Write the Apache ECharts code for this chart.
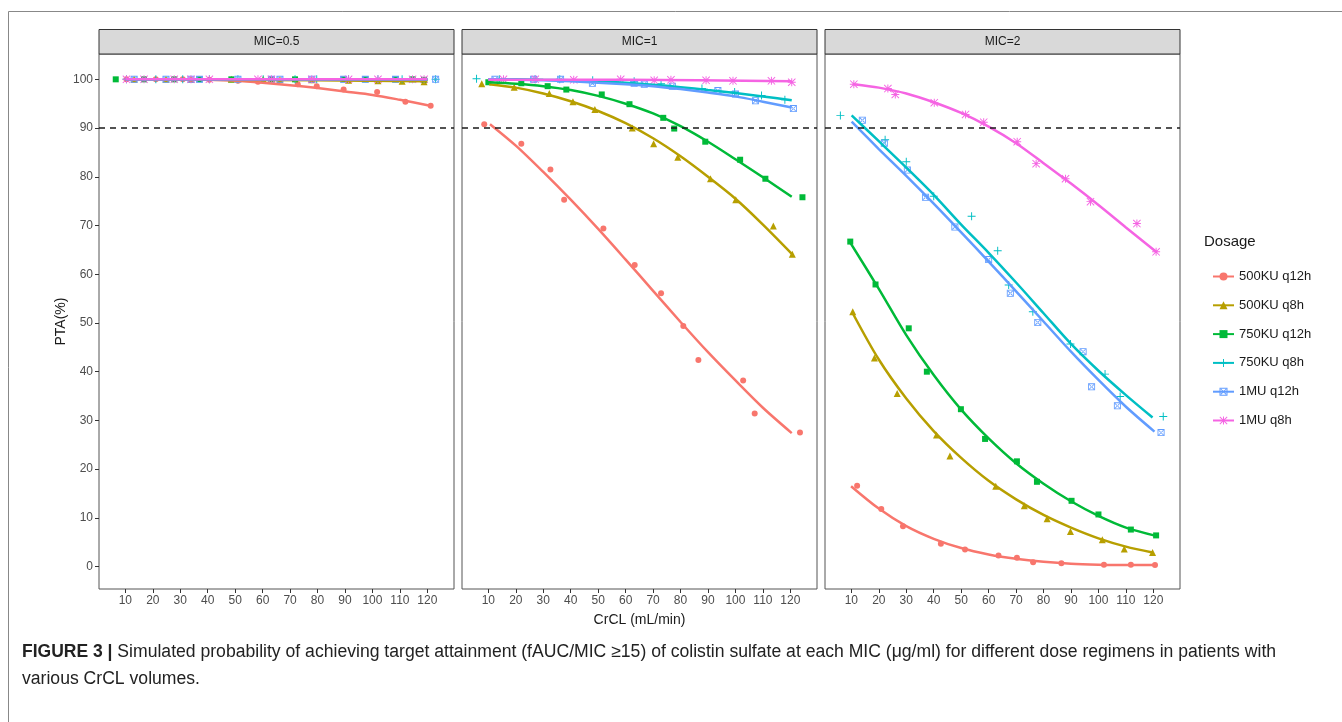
<!DOCTYPE html>
<html>
<head>
<meta charset="utf-8">
<script src="https://cdn.jsdelivr.net/npm/echarts@6/dist/echarts.min.js"></script>
<style>
  html, body { margin: 0; background: #fff; }
  #chart { width: 1342px; height: 722px; }
</style>
</head>
<body>
<div id="chart"></div>
<script>
const dosages = ['500KU q12h', '500KU q8h', '750KU q12h', '750KU q8h', '1MU q12h', '1MU q8h'];
const panels = ['MIC=0.5', 'MIC=1', 'MIC=2'];
const xTicks = [10, 20, 30, 40, 50, 60, 70, 80, 90, 100, 110, 120];
const yTicks = [0, 10, 20, 30, 40, 50, 60, 70, 80, 90, 100];
const targetPTA = 90;

// simulated PTA points, [CrCL, PTA], one list per dosage
const pointsMic05 = [
  [[10.4, 100], [21.1, 100], [30.9, 100], [40.6, 99.9], [51, 99.7], [58.3, 99.5], [72.8, 99.0], [79.7, 98.6], [89.5, 97.9], [101.7, 97.4], [112, 95.4], [121.2, 94.6]],
  [[13.2, 100], [24.8, 100], [33.9, 100], [48.6, 100], [60.2, 100], [66.3, 99.9], [77.9, 99.9], [91.3, 99.8], [102, 99.7], [110.8, 99.6], [118.8, 99.5]],
  [[6.5, 100], [16.8, 100], [27.8, 100], [37, 100], [48.6, 100], [63.2, 100], [71.8, 100], [89.5, 100], [97.4, 100], [108.4, 100], [114.6, 100], [118.8, 99.9]],
  [[10.4, 100], [21.1, 100], [30.9, 100], [40.6, 100], [51, 100], [60.2, 100], [71.8, 100], [79.7, 100], [91.3, 100], [102, 100], [110.8, 100], [123, 100]],
  [[13.2, 100], [24.8, 100], [33.9, 100], [37, 100], [51, 100], [63.2, 100], [66.3, 100], [77.9, 100], [89.5, 100], [97.4, 100], [108.4, 100], [123, 100]],
  [[10.4, 100], [16.8, 100], [27.8, 100], [33.9, 100], [40.6, 100], [58.3, 100], [63.2, 100], [77.9, 100], [91.3, 100], [102, 100], [114.6, 100], [118.8, 100]]
];
const pointsMic1 = [
  [[8.5, 90.8], [22, 86.8], [32.6, 81.5], [37.6, 75.3], [51.9, 69.4], [63.3, 61.9], [72.9, 56.1], [81, 49.4], [86.5, 42.4], [102.8, 38.2], [107, 31.4], [123.5, 27.5]],
  [[7.6, 99.1], [19.4, 98.4], [32.2, 97.1], [40.8, 95.4], [48.8, 93.8], [62.4, 90.0], [70.2, 86.8], [79, 84.0], [90.9, 79.6], [100.1, 75.3], [113.8, 69.9], [120.7, 64.1]],
  [[10, 99.4], [22, 99.2], [31.6, 98.6], [38.4, 97.9], [51.3, 96.9], [61.4, 94.9], [73.7, 92.1], [77.7, 89.9], [89, 87.2], [101.7, 83.5], [110.9, 79.6], [124.4, 75.8]],
  [[5.7, 100.1], [14, 100], [27, 100], [36, 100], [48, 99.8], [63.1, 99.6], [72.9, 99.1], [87.8, 98.1], [99.7, 97.4], [109.5, 96.7], [118, 95.8]],
  [[12.4, 100], [26.5, 100], [36.3, 100], [47.9, 99.2], [63.1, 99.2], [66.8, 99.0], [77, 98.6], [93.6, 97.7], [100, 97], [107.3, 95.6], [121.1, 94.0]],
  [[15.5, 100], [27.1, 100], [41.1, 99.9], [58.2, 100], [70.4, 99.8], [76.5, 99.9], [89.3, 99.8], [99.1, 99.7], [113.1, 99.7], [120.5, 99.4]]
];
const pointsMic2 = [
  [[12.1, 16.6], [20.9, 11.8], [28.8, 8.3], [42.6, 4.7], [51.4, 3.5], [63.6, 2.3], [70.3, 1.8], [76.2, 0.9], [86.5, 0.7], [102, 0.4], [111.8, 0.4], [120.6, 0.3]],
  [[10.5, 52.3], [18.4, 42.8], [26.7, 35.5], [41, 27.0], [45.9, 22.7], [62.6, 16.5], [73, 12.5], [81.3, 9.8], [89.8, 7.2], [101.4, 5.5], [109.4, 3.6], [119.7, 2.9]],
  [[9.6, 66.7], [18.8, 57.9], [30.9, 48.9], [37.5, 40.0], [49.9, 32.3], [58.7, 26.2], [70.3, 21.6], [77.6, 17.4], [90.2, 13.5], [100, 10.7], [111.8, 7.6], [121, 6.4]],
  [[6, 92.6], [22.3, 87.6], [30, 83.1], [40, 76], [53.8, 71.9], [63.3, 64.8], [67.3, 57.8], [76.1, 52.3], [89.8, 45.7], [102.4, 39.5], [107.9, 34.9], [123.6, 30.8]],
  [[14, 91.6], [22, 86.9], [30.4, 81.4], [37, 75.8], [47.7, 69.7], [60, 63], [67.9, 56.1], [77.9, 50.1], [94.4, 44.1], [97.5, 36.9], [106.9, 33.0], [122.8, 27.5]],
  [[10.9, 99.0], [23.3, 98.1], [26, 96.9], [40.2, 95.2], [51.6, 92.8], [58.2, 91.2], [70.4, 87.2], [77.3, 82.7], [88, 79.6], [97.1, 74.9], [114, 70.4], [121, 64.6]]
];

// smoothed fit lines
const fitMic05 = [
  [[10, 100], [20, 100], [30, 100], [40, 99.9], [50, 99.7], [60, 99.3], [70, 98.8], [80, 98.2], [90, 97.5], [100, 96.8], [110, 95.8], [121, 94.6]],
  [[10, 100], [40, 99.9], [80, 99.8], [120, 99.6]],
  [[10, 100], [60, 100], [120, 99.9]],
  [[10, 100], [60, 100], [120, 100]],
  [[10, 100], [60, 100], [120, 100]],
  [[10, 100], [60, 100], [120, 100]]
];
const fitMic1 = [
  [[10.6, 90.8], [20, 86.4], [30, 81], [40, 75.3], [50, 69.3], [60, 63], [70, 56.6], [80, 50.2], [90, 44], [100, 38.2], [110, 32.6], [120.5, 27.4]],
  [[10.3, 99], [20, 98.3], [30, 97.1], [40, 95.5], [50, 93.5], [60, 91], [70, 87.9], [80, 84.2], [90, 80], [100, 75.5], [110, 70.2], [120.7, 64.1]],
  [[10.3, 99.4], [20, 99.1], [30, 98.6], [40, 97.8], [50, 96.6], [60, 95], [70, 93], [80, 90.4], [90, 87.2], [100, 83.6], [110, 79.9], [120.5, 75.9]],
  [[10, 100], [20, 100], [30, 99.9], [40, 99.8], [50, 99.6], [60, 99.3], [70, 98.9], [80, 98.4], [90, 97.8], [100, 97.2], [110, 96.5], [120.5, 95.7]],
  [[10, 100], [20, 99.9], [30, 99.8], [40, 99.6], [50, 99.3], [60, 99], [70, 98.6], [80, 98], [90, 97.3], [100, 96.5], [110, 95.4], [120.5, 94.2]],
  [[10, 99.9], [60, 99.9], [120.5, 99.6]]
];
const fitMic2 = [
  [[9.9, 16.5], [20, 11.9], [30, 8.3], [40, 5.7], [50, 3.8], [60, 2.5], [70, 1.6], [80, 1.0], [90, 0.6], [100, 0.4], [110, 0.3], [120.6, 0.3]],
  [[10.5, 52], [20, 42.5], [30, 34.5], [40, 27.8], [50, 22.3], [60, 17.6], [70, 13.8], [80, 10.6], [90, 8], [100, 5.8], [110, 4.1], [119.7, 2.9]],
  [[9.6, 66.5], [20, 57], [30, 47.5], [40, 39.3], [50, 32.2], [60, 26.3], [70, 21.2], [80, 17], [90, 13.4], [100, 10.4], [110, 8.0], [121, 6.3]],
  [[10.1, 92.6], [20, 87.3], [30, 81.9], [40, 76.3], [50, 70.2], [60, 64.4], [70, 58.3], [80, 52.0], [90, 45.7], [100, 40.2], [110, 35.2], [119.7, 30.6]],
  [[10.1, 91.3], [20, 85.7], [30, 80.2], [40, 74.5], [50, 68.6], [60, 62.6], [70, 56.5], [80, 50.3], [90, 44.1], [100, 38.3], [110, 32.8], [120.4, 27.7]],
  [[10.9, 99], [20, 98.3], [30, 97.1], [40, 95.3], [50, 93.1], [60, 90.3], [70, 86.9], [80, 82.8], [90, 78.6], [100, 74.2], [110, 69.6], [121, 64.6]]
];

const colors = ['#F8766D', '#B79F00', '#00BA38', '#00BFC4', '#619CFF', '#F564E3'];
const plusPath = 'path://M4.4,0h1.2v4.4h4.4v1.2h-4.4v4.4h-1.2v-4.4h-4.4v-1.2h4.4z';
const boxCrossPath = 'path://M0,0H10V10H0Z M1.2,1.2V8.8H8.8V1.2Z M1.2,2L2,1.2L8.8,8L8,8.8Z M8.8,2L8,1.2L1.2,8L2,8.8Z';
const starPath = 'path://M4.4,0h1.2v10h-1.2z M0,4.4h10v1.2h-10z M0.8,0L10,9.2L9.2,10L0,0.8Z M9.2,0L10,0.8L0.8,10L0,9.2Z';
const symbols = ['circle', 'triangle', 'rect', plusPath, boxCrossPath, starPath];
const symbolSizes = [6, 7, 6, 8, 7, 8];

const panelLeft = [99, 462, 825];
const panelWidth = 355;
const panelTop = 54;
const panelHeight = 535;
const fontFamily = '"Liberation Sans", Arial, Helvetica, sans-serif';

const chart = echarts.init(document.getElementById('chart'));

const grid = panelLeft.map((left) => ({
  left,
  top: panelTop,
  width: panelWidth,
  height: panelHeight,
  show: true,
  borderColor: '#555',
  borderWidth: 1,
  backgroundColor: '#fff',
}));

const xAxis = panels.map((p, i) => ({
  type: 'value',
  gridIndex: i,
  min: 0.4,
  max: 129.7,
  axisLine: { show: false, onZero: false },
  splitLine: { show: false },
  axisTick: { show: true, length: 4, customValues: xTicks, lineStyle: { color: '#333' } },
  axisLabel: { customValues: xTicks, color: '#4d4d4d', fontSize: 12, margin: 6, fontFamily },
  name: i === 1 ? 'CrCL (mL/min)' : '',
  nameLocation: 'middle',
  nameGap: 24,
  nameTextStyle: { color: '#1a1a1a', fontSize: 14, fontFamily },
}));

const yAxis = panels.map((p, i) => ({
  type: 'value',
  gridIndex: i,
  min: -4.6,
  max: 105.2,
  axisLine: { show: false, onZero: false },
  splitLine: { show: false },
  axisTick: { show: i === 0, length: 4, customValues: yTicks, lineStyle: { color: '#333' } },
  axisLabel: { show: i === 0, customValues: yTicks, color: '#4d4d4d', fontSize: 12, margin: 6, fontFamily },
  name: i === 0 ? 'PTA(%)' : '',
  nameLocation: 'middle',
  nameGap: 31,
  nameTextStyle: { color: '#1a1a1a', fontSize: 14, fontFamily },
}));

const series = [];
[fitMic05, fitMic1, fitMic2].forEach((panelFits, p) => {
  panelFits.forEach((data, d) => {
    const s = {
      type: 'line',
      name: dosages[d],
      xAxisIndex: p,
      yAxisIndex: p,
      data,
      smooth: 0.3,
      symbol: symbols[d],
      showSymbol: false,
      silent: true,
      z: 3,
      itemStyle: { color: colors[d] },
      lineStyle: { color: colors[d], width: 2.5 },
    };
    if (d === 0) {
      s.markLine = {
        silent: true,
        symbol: 'none',
        label: { show: false },
        lineStyle: { color: '#1a1a1a', type: [6, 5], width: 1.5 },
        data: [{ yAxis: targetPTA }],
      };
    }
    series.push(s);
  });
});
[pointsMic05, pointsMic1, pointsMic2].forEach((panelPoints, p) => {
  panelPoints.forEach((data, d) => {
    series.push({
      type: 'scatter',
      name: dosages[d],
      xAxisIndex: p,
      yAxisIndex: p,
      data,
      symbol: symbols[d],
      symbolSize: symbolSizes[d],
      silent: true,
      z: 2,
      itemStyle: { color: colors[d], opacity: 1 },
    });
  });
});

const graphic = [
  {
    type: 'rect',
    shape: { x: 8.5, y: 11.5, width: 1400, height: 800 },
    style: { fill: 'none', stroke: '#888', lineWidth: 1 },
    silent: true,
  },
  {
    type: 'text',
    left: 1204,
    top: 234,
    style: { text: 'Dosage', fontSize: 15, fill: '#1a1a1a', fontFamily },
  },
  {
    type: 'text',
    left: 22,
    top: 639,
    style: {
      text: '{b|FIGURE 3 |} Simulated probability of achieving target attainment (fAUC/MIC \u226515) of colistin sulfate at each MIC (\u03bcg/ml) for different dose regimens in patients with\nvarious CrCL volumes.',
      rich: {
        b: { fontWeight: 'bold', fontSize: 17.5, fill: '#222', fontFamily, lineHeight: 27 },
      },
      fontSize: 17.6,
      lineHeight: 27,
      fill: '#222',
      fontFamily,
    },
  },
];
panelLeft.forEach((left, i) => {
  graphic.push({
    type: 'rect',
    shape: { x: left, y: 29.5, width: panelWidth, height: 24.5 },
    style: { fill: '#d9d9d9', stroke: '#333', lineWidth: 1 },
    silent: true,
  });
  graphic.push({
    type: 'text',
    x: left + panelWidth / 2,
    y: 42,
    style: { text: panels[i], fontSize: 12, fill: '#1a1a1a', align: 'center', verticalAlign: 'middle', fontFamily },
    silent: true,
  });
});

chart.setOption({
  animation: false,
  textStyle: { fontFamily },
  grid,
  xAxis,
  yAxis,
  legend: {
    orient: 'vertical',
    left: 1207,
    top: 265,
    itemWidth: 21,
    itemHeight: 10,
    itemGap: 15.8,
    selectedMode: false,
    data: dosages,
    textStyle: { color: '#1a1a1a', fontSize: 13, fontFamily, padding: [0, 0, 0, 0] },
  },
  graphic,
  series,
});

window.addEventListener('resize', () => chart.resize());
</script>
</body>
</html>
